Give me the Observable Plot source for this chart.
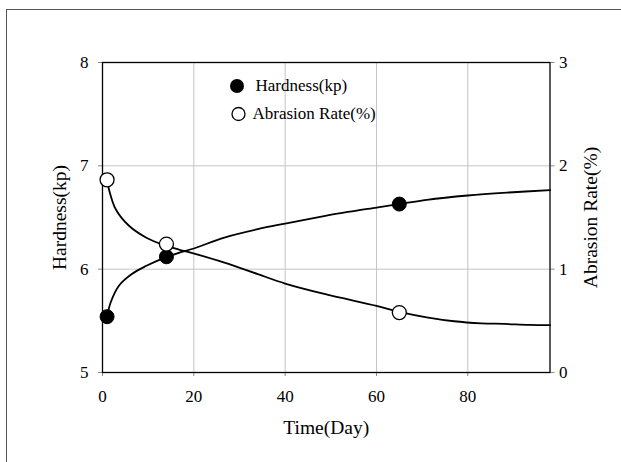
<!DOCTYPE html>
<html><head><meta charset="utf-8">
<script src="https://cdn.jsdelivr.net/npm/d3@7"></script>
<script src="https://cdn.jsdelivr.net/npm/@observablehq/plot@0.6"></script>
<style>
body{margin:0;background:#fff;overflow:hidden;}
#wrap{position:relative;width:621px;height:462px;overflow:hidden;background:#fff;}
#wrap svg{position:absolute;left:0;top:0;}
#border{position:absolute;left:6px;top:9px;width:700px;height:600px;border:1px solid #555;pointer-events:none;}
</style></head><body><div id="wrap"><div id="border"></div></div>
<script>
// measured points
const days = [1, 14, 65];
const hardness = [5.54, 6.12, 6.63];
const abrasion = [1.865, 1.243, 0.58];
// fitted curves
const hardCurveDays = [1, 1.8, 3.6, 6.5, 9.5, 13, 16.7, 20, 26.7, 34, 40, 48.8, 60, 65, 71, 80, 89, 98];
const hardCurveVals = [5.54, 5.68, 5.84, 5.955, 6.03, 6.10, 6.157, 6.20, 6.306, 6.387, 6.441, 6.516, 6.596, 6.63, 6.671, 6.713, 6.742, 6.765];
const abrCurveDays = [1, 1.4, 2.9, 5.8, 9.5, 13, 16.7, 19.3, 26.7, 34, 40, 48.8, 60, 65, 71, 77, 83, 88, 93.5, 98];
const abrCurveVals = [1.865, 1.775, 1.58, 1.42, 1.307, 1.24, 1.19, 1.16, 1.064, 0.952, 0.861, 0.758, 0.645, 0.587, 0.534, 0.496, 0.476, 0.47, 0.46, 0.458];
const xTicks = [0, 20, 40, 60, 80];
const leftTicks = [5, 6, 7, 8];
const rightTicks = [0, 1, 2, 3];
const seriesNames = ["Hardness(kp)", "Abrasion Rate(%)"];
const xTitle = "Time(Day)";

const leftDom = [5, 8], rightDom = [0, 3];
const toLeft = a => leftDom[0] + (a - rightDom[0]) * (leftDom[1] - leftDom[0]) / (rightDom[1] - rightDom[0]);
const fromLeft = h => rightDom[0] + (h - leftDom[0]) * (rightDom[1] - rightDom[0]) / (leftDom[1] - leftDom[0]);

const hardPts = days.map((d, i) => ({x: d, y: hardness[i]}));
const abrPts = days.map((d, i) => ({x: d, y: toLeft(abrasion[i])}));
const hardCurve = hardCurveDays.map((d, i) => ({x: d, y: hardCurveVals[i]}));
const abrCurve = abrCurveDays.map((d, i) => ({x: d, y: toLeft(abrCurveVals[i])}));

const chart = Plot.plot({
  width: 621, height: 462,
  marginLeft: 102, marginRight: 71.5, marginTop: 62, marginBottom: 90,
  style: {fontFamily: "'Liberation Serif', 'Times New Roman', serif", fontSize: "17px", background: "transparent", color: "black"},
  x: {domain: [0, 98]},
  y: {domain: leftDom},
  marks: [
    Plot.gridX(xTicks.slice(1), {stroke: "#c4c4c4", strokeOpacity: 1, strokeWidth: 1}),
    Plot.gridY(leftTicks.slice(1, -1), {stroke: "#c4c4c4", strokeOpacity: 1, strokeWidth: 1}),
    Plot.axisX(xTicks, {tickSize: 4, tickPadding: 13, stroke: "#888", fill: "black", label: null, fontSize: 17, tickFormat: d => String(d)}),
    Plot.axisY(leftTicks, {anchor: "left", tickSize: 4, tickPadding: 10, stroke: "#888", fill: "black", label: null, fontSize: 17, tickFormat: d => String(d)}),
    Plot.axisY(rightTicks.map(toLeft), {anchor: "right", tickSize: 4, tickPadding: 5, stroke: "#888", fill: "black", label: null, fontSize: 17,
      tickFormat: d => String(Math.round(fromLeft(d)))}),
    Plot.frame({stroke: "black", strokeWidth: 1.3}),
    Plot.line(hardCurve, {x: "x", y: "y", curve: "catmull-rom", stroke: "black", strokeWidth: 1.8}),
    Plot.line(abrCurve, {x: "x", y: "y", curve: "catmull-rom", stroke: "black", strokeWidth: 1.8}),
    Plot.dot(hardPts, {x: "x", y: "y", r: 7, fill: "black", stroke: "black", strokeWidth: 1}),
    Plot.dot(abrPts, {x: "x", y: "y", r: 7, fill: "white", stroke: "black", strokeWidth: 1.3}),
    // legend
    Plot.dot([seriesNames[0]], {frameAnchor: "top-left", dx: 134.5, dy: 23.5, r: 7, fill: "black"}),
    Plot.dot([seriesNames[1]], {frameAnchor: "top-left", dx: 136, dy: 51.5, r: 6.5, fill: "white", stroke: "black", strokeWidth: 1.3}),
    Plot.text([seriesNames[0]], {frameAnchor: "top-left", dx: 153, dy: 23.5, text: d => d, textAnchor: "start", lineAnchor: "middle", fontSize: 17, fill: "black"}),
    Plot.text([seriesNames[1]], {frameAnchor: "top-left", dx: 150, dy: 51.5, text: d => d, textAnchor: "start", lineAnchor: "middle", fontSize: 17, fill: "black"}),
    // axis titles
    Plot.text([xTitle], {frameAnchor: "bottom", dy: 55, text: d => d, fontSize: 19.5, fill: "black", lineAnchor: "middle", textAnchor: "middle"}),
    Plot.text([seriesNames[0]], {frameAnchor: "left", dx: -43, rotate: -90, text: d => d, fontSize: 19.5, fill: "black", lineAnchor: "middle", textAnchor: "middle"}),
    Plot.text([seriesNames[1]], {frameAnchor: "right", dx: 40.5, rotate: -90, text: d => d, fontSize: 19.5, fill: "black", lineAnchor: "middle", textAnchor: "middle"})
  ]
});
document.getElementById("wrap").insertBefore(chart, document.getElementById("border"));
</script>
</body></html>
